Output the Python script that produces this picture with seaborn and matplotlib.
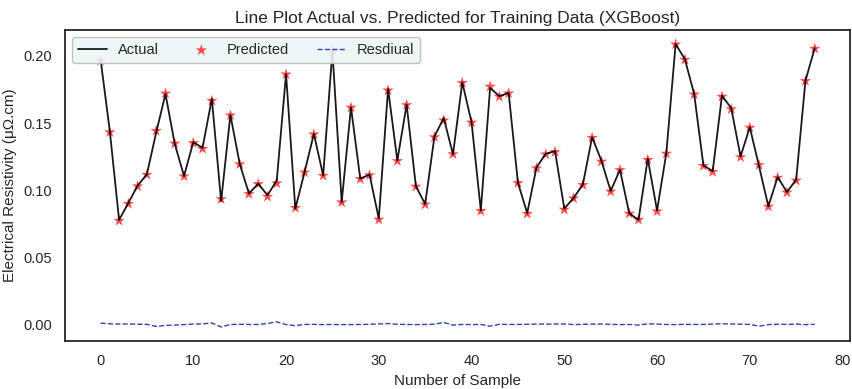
import numpy as np
import pandas as pd
import matplotlib
matplotlib.use("Agg")
import matplotlib.pyplot as plt
import seaborn as sns

actual = [0.1975, 0.1440, 0.0780, 0.0906, 0.1035, 0.1120, 0.1430, 0.1716, 0.1346, 0.1106,
          0.1358, 0.1316, 0.1680, 0.0919, 0.1560, 0.1198, 0.0976, 0.1050, 0.0963, 0.1074,
          0.1864, 0.0864, 0.1136, 0.1420, 0.1111, 0.2037, 0.0913, 0.1617, 0.1087, 0.1117,
          0.0790, 0.1753, 0.1222, 0.1637, 0.1030, 0.0898, 0.1400, 0.1538, 0.1267, 0.1802,
          0.1506, 0.0850, 0.1761, 0.1700, 0.1724, 0.1057, 0.0830, 0.1170, 0.1272, 0.1291,
          0.0864, 0.0943, 0.1044, 0.1395, 0.1220, 0.0995, 0.1153, 0.0830, 0.0780, 0.1235,
          0.0850, 0.1276, 0.2087, 0.1975, 0.1716, 0.1185, 0.1143, 0.1704, 0.1610, 0.1252,
          0.1469, 0.1178, 0.0881, 0.1099, 0.0987, 0.1079, 0.1815, 0.2057]

residual = [0.0012, 0.0008, 0.0006, 0.0006, 0.0005, 0.0004, -0.0012, -0.0004, -0.0002, 0.0002,
            0.0006, 0.0007, 0.0014, -0.0016, 0.0003, 0.0004, 0.0003, 0.0003, 0.0010, 0.0022,
            0.0002, -0.0006, 0.0003, 0.0004, 0.0002, 0.0003, 0.0002, 0.0002, 0.0003, 0.0004,
            0.0007, 0.0010, 0.0004, 0.0003, 0.0002, 0.0003, 0.0005, 0.0018, -0.0002, 0.0003,
            0.0002, 0.0003, -0.0010, 0.0004, 0.0003, 0.0003, 0.0004, 0.0006, 0.0005, 0.0006,
            0.0007, 0.0002, 0.0004, 0.0005, 0.0006, 0.0004, 0.0002, 0.0003, -0.0002, 0.0008,
            0.0006, 0.0003, 0.0002, 0.0004, 0.0003, 0.0003, 0.0006, 0.0008, 0.0007, 0.0005,
            0.0003, -0.0010, 0.0002, 0.0005, 0.0003, 0.0006, 0.0002, 0.0004]

predicted = [0.1963, 0.1432, 0.0774, 0.0900, 0.1030, 0.1116, 0.1442, 0.1720, 0.1348, 0.1104,
             0.1352, 0.1309, 0.1666, 0.0935, 0.1557, 0.1194, 0.0973, 0.1047, 0.0953, 0.1052,
             0.1862, 0.0870, 0.1133, 0.1416, 0.1109, 0.2034, 0.0911, 0.1615, 0.1084, 0.1113,
             0.0783, 0.1743, 0.1218, 0.1634, 0.1028, 0.0895, 0.1395, 0.1520, 0.1269, 0.1799,
             0.1504, 0.0847, 0.1771, 0.1696, 0.1721, 0.1054, 0.0826, 0.1164, 0.1267, 0.1285,
             0.0857, 0.0941, 0.1040, 0.1390, 0.1214, 0.0991, 0.1151, 0.0827, 0.0782, 0.1227,
             0.0844, 0.1273, 0.2085, 0.1971, 0.1713, 0.1182, 0.1137, 0.1696, 0.1603, 0.1247,
             0.1466, 0.1188, 0.0879, 0.1094, 0.0984, 0.1073, 0.1813, 0.2053]

idx = np.arange(len(actual))
df = pd.DataFrame({"idx": idx, "Actual": actual, "Predicted": predicted, "Residual": residual})

sns.set_theme(style="white")
plt.rcParams["font.family"] = ["Liberation Sans", "DejaVu Sans"]

fig, ax = plt.subplots(figsize=(8.53, 3.89), dpi=100)
fig.subplots_adjust(left=0.076, right=0.997, top=0.923, bottom=0.123)

sns.lineplot(data=df, x="idx", y="Actual", ax=ax, color="black", linewidth=1.3,
             alpha=0.9, label="Actual")
sns.scatterplot(data=df, x="idx", y="Predicted", ax=ax, color="red", marker="*",
                s=75, alpha=0.7, edgecolor="none", linewidth=0, label="Predicted")
sns.lineplot(data=df, x="idx", y="Residual", ax=ax, color="#2846b4", linewidth=1.0,
             linestyle="--", label="Resdiual")

ax.set_title("Line Plot Actual vs. Predicted for Training Data (XGBoost)", fontsize=12.5, pad=5)
ax.set_xlabel("Number of Sample", fontsize=11)
ax.set_ylabel("Electrical Resistivity (\u03bc\u03a9.cm)", fontsize=11)
ax.tick_params(labelsize=10.5)
ax.set_xticks([0, 10, 20, 30, 40, 50, 60, 70, 80])
ax.set_yticks([0.00, 0.05, 0.10, 0.15, 0.20])
ax.yaxis.set_major_formatter(matplotlib.ticker.FormatStrFormatter("%.2f"))
for sp in ax.spines.values():
    sp.set_color("#262626")
    sp.set_linewidth(1.3)

leg = ax.legend(loc="upper left", ncol=3, fontsize=10.5, frameon=True,
                handlelength=2.0, columnspacing=1.9, handletextpad=0.75)
leg.get_frame().set_facecolor("#eef5f7")
leg.get_frame().set_edgecolor("#bbbbbb")
leg.get_frame().set_alpha(0.9)

fig.savefig("out.png", dpi=100)
